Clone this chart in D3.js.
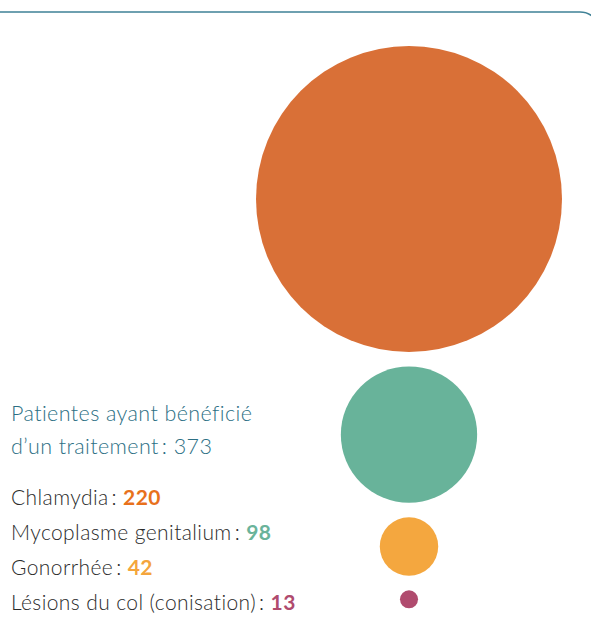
<!DOCTYPE html>
<html>
<head>
<meta charset="utf-8">
<script src="https://cdn.jsdelivr.net/npm/d3@7"></script>
<style>
  body { margin: 0; background: #fff; }
  svg { display: block; font-family: Lato, "Open Sans", sans-serif; }
</style>
</head>
<body>
<div id="graph"></div>
<script>
// Data
var categories = ["Chlamydia", "Mycoplasme genitalium", "Gonorrhée", "Lésions du col (conisation)"];
var values = [220, 98, 42, 13];
var total = 373;
var circleColors = ["#d97037", "#68b39a", "#f4a73f", "#b04b6e"];
var numberColors = ["#e8711c", "#6ab39a", "#f4a53c", "#b04b6e"];

var width = 591, height = 631;

// Create SVG Canvas
var svg = d3.select("#graph")
    .append("svg")
    .attr("width", width)
    .attr("height", height);

// frame (rounded corner top right)
svg.append("rect")
    .attr("x", -20)
    .attr("y", 12)
    .attr("width", 620)
    .attr("height", 700)
    .attr("rx", 20)
    .attr("fill", "none")
    .attr("stroke", "#3f8196")
    .attr("stroke-width", 1.5);

// radius is proportional to value
var r = d3.scaleLinear()
    .domain([0, d3.max(values)])
    .range([0, 153]);

var cx = 409, top0 = 46, gap = 14.5;
var centers = [];
var cursor = top0;
values.forEach(function(v) {
    centers.push(cursor + r(v));
    cursor += 2 * r(v) + gap;
});

svg.selectAll("circle.bubble")
    .data(values)
    .enter()
    .append("circle")
    .attr("class", "bubble")
    .attr("cx", cx)
    .attr("cy", function(d, i) { return centers[i]; })
    .attr("r", function(d) { return r(d); })
    .attr("fill", function(d, i) { return circleColors[i]; });

// title
var title = svg.append("text")
    .attr("x", 11)
    .attr("y", 421)
    .style("font-size", "21.5px")
    .style("font-weight", 300)
    .style("letter-spacing", "0.4px")
    .style("fill", "#2c6f84");
title.append("tspan").text("Patientes ayant bénéficié");
title.append("tspan")
    .attr("x", 11)
    .attr("dy", 33)
    .text("d\u2019un traitement\u2009: " + total);

// legend lines
var lines = svg.selectAll("text.item")
    .data(values)
    .enter()
    .append("text")
    .attr("class", "item")
    .attr("x", 11)
    .attr("y", function(d, i) { return 505 + i * 35; })
    .style("font-size", "21px")
    .style("font-weight", 300)
    .style("letter-spacing", "0.4px")
    .style("fill", "#2b2b2b");

lines.append("tspan")
    .text(function(d, i) { return categories[i] + "\u2009: "; });
lines.append("tspan")
    .style("font-weight", "bold")
    .style("fill", function(d, i) { return numberColors[i]; })
    .text(function(d) { return d; });
</script>
</body>
</html>
